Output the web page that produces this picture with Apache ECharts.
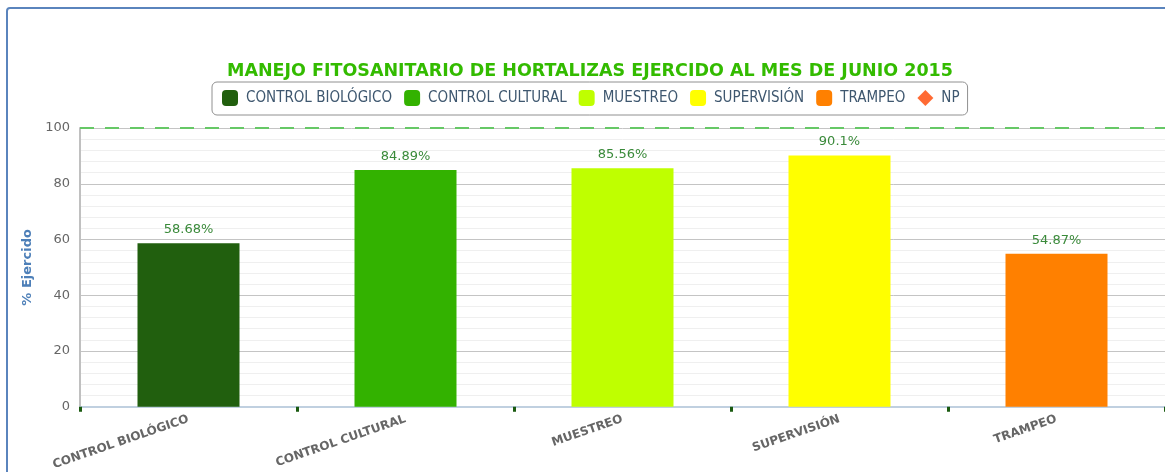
<!DOCTYPE html>
<html>
<head>
<meta charset="utf-8">
<script src="https://cdn.jsdelivr.net/npm/echarts@6/dist/echarts.min.js"></script>
<style>
  html, body { margin: 0; padding: 0; background: #fff; overflow: hidden; }
  #chart { position: absolute; left: 0; top: 0; width: 1165px; height: 472px; }
  #marco { position: absolute; left: 6px; top: 7px; width: 1400px; height: 600px;
           border: 2px solid #5a84bd; border-radius: 4px; pointer-events: none; }
</style>
</head>
<body>
<div id="chart"></div>
<div id="marco"></div>
<script>
// datos del grafico
var categorias = ['CONTROL BIOLÓGICO', 'CONTROL CULTURAL', 'MUESTREO', 'SUPERVISIÓN', 'TRAMPEO'];
var valores = [58.68, 84.89, 85.56, 90.1, 54.87];
var colores = ['#215f0e', '#33b200', '#bfff00', '#ffff00', '#ff8000'];
var meta = 100;

(function() {
  var myChart = echarts.init(document.getElementById('chart'));

  // una serie por categoria para que salga en la leyenda
  var series = categorias.map(function(nombre, i) {
    var datos = categorias.map(function(c, j) { return j === i ? valores[i] : '-'; });
    return {
      name: nombre,
      type: 'bar',
      stack: 'total',
      barWidth: 102,
      data: datos,
      itemStyle: { color: colores[i] },
      label: {
        show: true,
        position: 'top',
        distance: 7,
        color: '#3a8a3a',
        fontFamily: 'DejaVu Sans',
        fontSize: 13,
        formatter: '{c}%'
      }
    };
  });

  // linea de meta al 100%
  series[0].markLine = {
    silent: true,
    symbol: 'none',
    label: { show: false },
    lineStyle: { color: '#66c866', type: [14, 11], width: 2 },
    data: [{ yAxis: meta }]
  };

  // serie NP (solo leyenda)
  series.push({
    name: 'NP',
    type: 'scatter',
    symbol: 'diamond',
    data: [],
    itemStyle: { color: '#ff4500' }
  });

  var option = {
    animation: false,
    title: {
      text: 'MANEJO FITOSANITARIO DE HORTALIZAS EJERCIDO AL MES DE JUNIO 2015',
      left: 222,
      top: 57,
      textStyle: {
        color: '#33bb00',
        fontFamily: 'DejaVu Sans',
        fontWeight: 'bold',
        fontSize: 17.5
      }
    },
    legend: {
      top: 82,
      left: 212,
      data: categorias.map(function(c) { return { name: c, icon: 'roundRect' }; })
            .concat([{ name: 'NP', icon: 'diamond' }]),
      itemWidth: 16,
      itemHeight: 16,
      itemGap: 12,
      padding: [8, 8, 9, 10],
      borderColor: '#909090',
      borderWidth: 1,
      borderRadius: 5,
      textStyle: {
        color: '#3e576f',
        fontFamily: 'DejaVu Sans Condensed',
        fontSize: 15,
        padding: [0, 0, 0, 3]
      }
    },
    grid: {
      left: 80,
      right: 0,
      top: 128,
      bottom: 64
    },
    xAxis: {
      type: 'category',
      data: categorias,
      axisLine: { lineStyle: { color: '#c0d0e0', width: 2 } },
      axisTick: { show: true, length: 5, lineStyle: { color: '#1a5a10', width: 3 } },
      axisLabel: {
        rotate: 19,
        margin: 12,
        interval: 0,
        color: '#666',
        fontFamily: 'DejaVu Sans',
        fontWeight: 'bold',
        fontSize: 12
      }
    },
    yAxis: {
      type: 'value',
      min: 0,
      max: 100,
      interval: 20,
      name: '% Ejercido',
      nameLocation: 'middle',
      nameRotate: 90,
      nameGap: 43,
      nameTextStyle: {
        color: '#4d7fb8',
        fontFamily: 'DejaVu Sans',
        fontWeight: 'bold',
        fontSize: 13
      },
      axisLine: { show: true, lineStyle: { color: '#c0c0c0', width: 2 } },
      axisTick: { show: false },
      axisLabel: {
        color: '#666',
        fontFamily: 'DejaVu Sans',
        fontSize: 13,
        margin: 10
      },
      splitLine: { lineStyle: { color: '#c4c4c4' } },
      minorTick: { show: false, splitNumber: 5 },
      minorSplitLine: { show: true, lineStyle: { color: '#efefef' } }
    },
    series: series
  };

  myChart.setOption(option);
})();
</script>
</body>
</html>
